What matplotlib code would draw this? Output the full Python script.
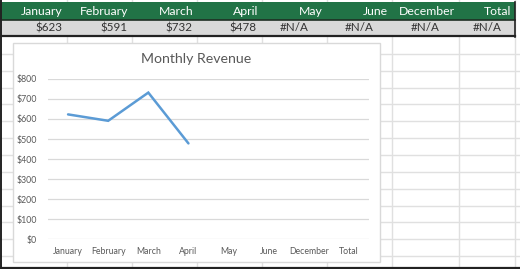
import matplotlib
matplotlib.use("Agg")
import matplotlib.pyplot as plt
from matplotlib.patches import Rectangle

# ---- data ----
categories = ["January", "February", "March", "April", "May", "June", "December", "Total"]
revenue = [623, 591, 732, 478, None, None, None, None]
y_ticks = [0, 100, 200, 300, 400, 500, 600, 700, 800]
y_tick_labels = ["$0", "$100", "$200", "$300", "$400", "$500", "$600", "$700", "$800"]
title = "Monthly Revenue"

W, H = 520, 269
FONT = "Lato"
fig = plt.figure(figsize=(W / 100, H / 100), dpi=100)

# ---- spreadsheet background (pixel coordinates) ----
bg = fig.add_axes([0, 0, 1, 1])
bg.set_xlim(0, W)
bg.set_ylim(H, 0)
bg.axis("off")

grid_c = "#E0E0E0"
col_edges = [0, 67, 132, 197, 262, 327, 392, 459, 515]
row_lines = [37 + 16.85 * k for k in range(1, 14)]
for y in row_lines:
    bg.plot([0, W], [y, y], color=grid_c, lw=1.0, zorder=1)
for x in col_edges[1:]:
    bg.plot([x, x], [0, H], color=grid_c, lw=1.0, zorder=1)

# header row
bg.add_patch(Rectangle((0, 2), 515, 17.5, facecolor="#217346", edgecolor="none", zorder=2))
# data row
bg.add_patch(Rectangle((0, 19.5), 515, 16.5, facecolor="#D9D9D9", edgecolor="none", zorder=2))
bg.plot([0, 515], [19.5, 19.5], color="#1F2F24", lw=1.2, zorder=3)
bg.plot([0, 515], [36.3, 36.3], color="#222222", lw=1.6, zorder=3)
bg.plot([515, 515], [2, 37], color="#222222", lw=1.2, zorder=3)
bg.plot([0.6, 0.6], [0, H], color="#222222", lw=1.4, zorder=3)
bg.plot([0, W], [267.6, 267.6], color="#222222", lw=1.6, zorder=3)

for i, cat in enumerate(categories):
    left, right = col_edges[i], col_edges[i + 1]
    bg.text(right - 4, 11.5, cat, color="white", fontsize=8.8, family=FONT,
            ha="right", va="center", zorder=4)
    v = revenue[i]
    if v is None:
        bg.text((left + right) / 2, 27.8, "#N/A", color="#333333", fontsize=8.4,
                family=FONT, ha="center", va="center", zorder=4)
    else:
        bg.text(right - 5, 27.8, f"${v}", color="#333333", fontsize=8.4,
                family=FONT, ha="right", va="center", zorder=4)

# chart frame
bg.add_patch(Rectangle((13, 43), 367, 219, facecolor="white", edgecolor="#D9D9D9",
                       lw=1.0, zorder=5))
bg.text(196.5, 59, title, color="#595959", fontsize=10.2, family=FONT,
        ha="center", va="center", zorder=6)

# ---- chart plot area ----
px_left, px_right, px_top, px_bottom = 48, 369, 79, 239
ax = fig.add_axes([px_left / W, (H - px_bottom) / H,
                   (px_right - px_left) / W, (px_bottom - px_top) / H])
ax.set_zorder(10)
ax.patch.set_alpha(0)
xs = list(range(len(categories)))
pts_x = [x for x, v in zip(xs, revenue) if v is not None]
pts_y = [v for v in revenue if v is not None]
ax.plot(pts_x, pts_y, color="#5B9BD5", lw=1.8, solid_capstyle="round",
        solid_joinstyle="miter", zorder=5, clip_on=False)
ax.set_xlim(-0.5, len(categories) - 0.5)
ax.set_ylim(0, 800)
ax.set_yticks(y_ticks)
ax.set_yticklabels(y_tick_labels)
ax.set_xticks(xs)
ax.set_xticklabels(categories)
ax.grid(axis="y", color="#D9D9D9", lw=0.9)
ax.set_axisbelow(True)
for s in ax.spines.values():
    s.set_visible(False)
ax.tick_params(length=0, colors="#595959", labelsize=6.3, pad=0)
ax.tick_params(axis="y", pad=8)
ax.tick_params(axis="x", pad=6)
for lab in ax.get_xticklabels() + ax.get_yticklabels():
    lab.set_family(FONT)
    lab.set_color("#595959")

fig.savefig("out.png", dpi=100)
